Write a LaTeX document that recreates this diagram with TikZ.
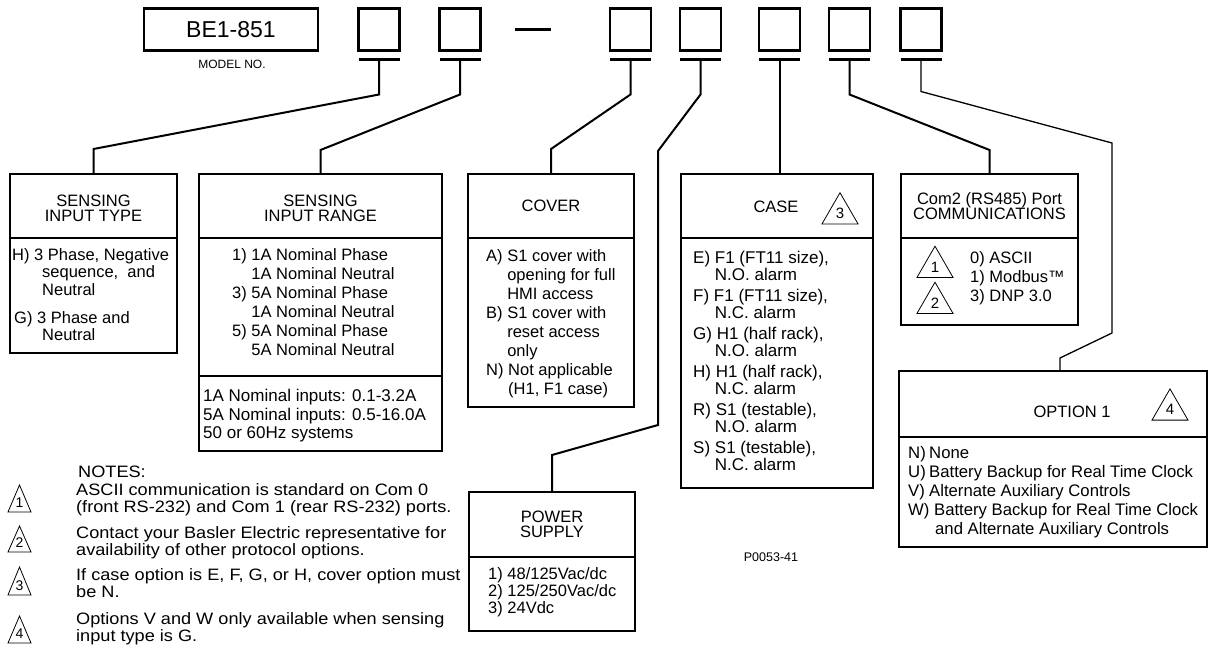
\documentclass[tikz,border=0pt]{standalone}
\usepackage{fontspec}
\setmainfont{Liberation Sans}
\newfontfamily\notefont{Liberation Sans}[FakeStretch=1.1]
\usetikzlibrary{positioning,shapes.geometric}

\tikzset{
  code/.style={draw, line width=2.6pt, minimum width=41pt, minimum height=42pt, inner sep=0pt, outer sep=0pt},
  grp/.style={draw, line width=2.6pt, anchor=north west, inner sep=0pt, outer sep=0pt},
  grpline/.style={line width=2.6pt},
  bar/.style={line width=3pt},
  lead/.style={line width=2pt},
  leadthin/.style={line width=1.3pt},
  head/.style={align=center, anchor=north, inner sep=0pt, font=\fontsize{16.5}{15}\selectfont},
  body/.style={align=left, anchor=north west, inner sep=0pt},
  note/.style={align=left, anchor=north west, inner sep=0pt, font=\notefont\fontsize{16.5}{17}\selectfont},
  tri/.style={draw, line width=0.8pt, regular polygon, regular polygon sides=3, minimum size=41.6pt, inner sep=0pt, font=\fontsize{15}{15}\selectfont},
  triline/.style={line width=0.8pt},
  trinum/.style={inner sep=0pt, font=\fontsize{14}{14}\selectfont},
}

\begin{document}
\begin{tikzpicture}[x=1pt,y=-1pt,font=\fontsize{16.5}{19}\selectfont]
\useasboundingbox (0,0) rectangle (1210,667);

% model number and code boxes
\node[code, minimum width=174pt] (model) at (231,29.5) {\fontsize{23}{23}\selectfont BE1-851};
\node[font=\fontsize{12}{12}\selectfont] (modelno) at (232,64) {MODEL NO.};

\node[code] (c1) at (379,29.5) {};
\node[code] (c2) [right=40pt of c1] {};
\draw[bar] (515,29) -- (551,29);
\node[code] (c3) at (630.5,29.5) {};
\node[code] (c4) [right=29pt of c3] {};
\node[code] (c5) [right=38pt of c4] {};
\node[code] (c6) [right=29pt of c5] {};
\node[code] (c7) [right=30.5pt of c6] {};

\draw[bar] ([yshift=-9pt]c1.south west) -- ([yshift=-9pt]c1.south east);
\draw[bar] ([yshift=-9pt]c2.south west) -- ([yshift=-9pt]c2.south east);
\draw[bar] ([yshift=-9pt]c3.south west) -- ([yshift=-9pt]c3.south east);
\draw[bar] ([yshift=-9pt]c4.south west) -- ([yshift=-9pt]c4.south east);
\draw[bar] ([yshift=-9pt]c5.south west) -- ([yshift=-9pt]c5.south east);
\draw[bar] ([yshift=-9pt]c6.south west) -- ([yshift=-9pt]c6.south east);
\draw[bar] ([yshift=-9pt]c7.south west) -- ([yshift=-9pt]c7.south east);

% option boxes
\node[grp, minimum width=167pt, minimum height=179pt] (stype) at (10,174) {};
\node[grp, minimum width=243pt, minimum height=277pt] (srange) at (199,174) {};
\node[grp, minimum width=166pt, minimum height=233pt] (cover) at (468,174) {};
\node[grp, minimum width=166pt, minimum height=139pt] (power) at (469,492) {};
\node[grp, minimum width=192pt, minimum height=314pt] (case) at (681,174) {};
\node[grp, minimum width=177pt, minimum height=151pt] (com2) at (901,174) {};
\node[grp, minimum width=308pt, minimum height=176pt] (opt) at (899,371) {};

\draw[grpline] ([yshift=-64pt]stype.north west) -- ([yshift=-64pt]stype.north east);
\draw[grpline] ([yshift=-64pt]srange.north west) -- ([yshift=-64pt]srange.north east);
\draw[grpline] ([yshift=-202pt]srange.north west) -- ([yshift=-202pt]srange.north east);
\draw[grpline] ([yshift=-64pt]cover.north west) -- ([yshift=-64pt]cover.north east);
\draw[grpline] ([yshift=-65pt]power.north west) -- ([yshift=-65pt]power.north east);
\draw[grpline] ([yshift=-64pt]case.north west) -- ([yshift=-64pt]case.north east);
\draw[grpline] ([yshift=-64pt]com2.north west) -- ([yshift=-64pt]com2.north east);
\draw[grpline] ([yshift=-66pt]opt.north west) -- ([yshift=-66pt]opt.north east);

% leads
\draw[lead] ([yshift=-9pt]c1.south) -- ++(0,35) -- ([yshift=25pt]stype.north) -- (stype.north);
\draw[lead] ([yshift=-9pt]c2.south) -- ++(0,35) -- ([yshift=24pt]srange.north) -- (srange.north);
\draw[lead] ([yshift=-9pt]c3.south) -- ++(0,35) -- ([yshift=25pt]cover.north) -- (cover.north);
\draw[lead] ([yshift=-9pt]c4.south) -- ++(0,35) -- (658,151) -- (658,425) -- ([yshift=37pt]power.north) -- (power.north);
\draw[lead] ([yshift=-9pt]c5.south) -- (c5.south |- case.north);
\draw[lead] ([yshift=-9pt]c6.south) -- ++(0,35) -- ([yshift=24pt]com2.north) -- (com2.north);
\draw[leadthin] ([yshift=-9pt]c7.south) -- ++(0,32) -- (1112,143) -- (1112,333) -- ([xshift=7pt,yshift=13pt]opt.north) -- ([xshift=7pt]opt.north);

% texts
\node[head] (stypehd) at (93.5,195) {SENSING\\INPUT TYPE};
\node[body, font=\fontsize{16.5}{17.5}\selectfont] (stypebd) at (12,248)
  {H) 3 Phase, Negative\\ \hspace*{30pt}sequence,~ and\\ \hspace*{30pt}Neutral\\[10.5pt]
   \hspace*{2pt}G) 3 Phase and\\ \hspace*{30pt}Neutral};

\node[head] (srangehd) at (320.5,195) {SENSING\\INPUT RANGE};
\node[body] (srangebd) at (232,248)
  {1) 1A Nominal Phase\\ \phantom{1) }1A Nominal Neutral\\
   3) 5A Nominal Phase\\ \phantom{3) }1A Nominal Neutral\\
   5) 5A Nominal Phase\\ \phantom{5) }5A Nominal Neutral};
\node[body, font=\fontsize{17}{18.5}\selectfont] (srangeft) at (203,389)
  {1A Nominal inputs: 0.1-3.2A\\5A Nominal inputs: 0.5-16.0A\\50 or 60Hz systems};

\node[head] (coverhd) at (551,200) {COVER};
\node[body] (coverbd) at (486,249)
  {A) S1 cover with\\ \phantom{A) }opening for full\\ \phantom{A) }HMI access\\
   B) S1 cover with\\ \phantom{B) }reset access\\ \phantom{B) }only\\
   N) Not applicable\\ \phantom{N) }(H1, F1 case)};

\node[head] (powerhd) at (552,511) {POWER\\SUPPLY};
\node[body, font=\fontsize{16.5}{17}\selectfont] (powerbd) at (488,567)
  {1) 48/125Vac/dc\\2) 125/250Vac/dc\\3) 24Vdc};

\node[head] (casehd) at (776,201) {CASE};
\node[tri] (t3) at (840,213.5) {3};
\node[body, font=\fontsize{17}{16.5}\selectfont] (casebd) at (693,251)
  {E) F1 (FT11 size),\\ \phantom{E) }N.O. alarm\\[5pt]
   F) F1 (FT11 size),\\ \phantom{E) }N.C. alarm\\[5pt]
   G) H1 (half rack),\\ \phantom{E) }N.O. alarm\\[5pt]
   H) H1 (half rack),\\ \phantom{E) }N.C. alarm\\[5pt]
   R) S1 (testable),\\ \phantom{E) }N.O. alarm\\[5pt]
   S) S1 (testable),\\ \phantom{E) }N.C. alarm};

\node[head] (com2hd) at (989.5,192) {Com2 (RS485) Port\\COMMUNICATIONS};
\node[tri] (t1) at (935,267) {1};
\node[tri] (t2) at (935,303) {2};
\node[body] (com2bd) at (970,251) {0) ASCII\\1) Modbus™\\3) DNP 3.0};

\node[head] (opthd) at (1072,406) {OPTION 1};
\node[tri] (t4) at (1170,409.7) {4};
\node[body, font=\fontsize{16.7}{19}\selectfont] (optbd) at (908,446)
  {\makebox[21pt][l]{N)}None\\
   \makebox[21pt][l]{U)}Battery Backup for Real Time Clock\\
   \makebox[21pt][l]{V)}Alternate Auxiliary Controls\\
   W) Battery Backup for Real Time Clock\\
   \hspace*{27pt}and Alternate Auxiliary Controls};

\node[font=\fontsize{12.5}{12.5}\selectfont] (drawno) at (771,557) {P0053-41};

% notes
\node[note] (notes) at (78,466) {NOTES:};
\node[note] (note1) at (76,483)
  {ASCII communication is standard on Com 0\\(front RS-232) and Com 1 (rear RS-232) ports.};
\node[note] (note2) at (76,526)
  {Contact your Basler Electric representative for\\availability of other protocol options.};
\node[note] (note3) at (76,568)
  {If case option is E, F, G, or H, cover option must\\be N.};
\node[note] (note4) at (76,612)
  {Options V and W only available when sensing\\input type is G.};

\node[trinum] (n1) at (19.5,503) {1};
\draw[triline] (8,512) -- (19.5,485) -- (31,512) -- cycle;
\node[trinum] (n2) at (19.5,543) {2};
\draw[triline] (8,552) -- (19.5,526) -- (31,552) -- cycle;
\node[trinum] (n3) at (19.5,586) {3};
\draw[triline] (8,595) -- (19.5,567) -- (31,595) -- cycle;
\node[trinum] (n4) at (19.5,634) {4};
\draw[triline] (8,643) -- (19.5,616) -- (31,643) -- cycle;
\end{tikzpicture}
\end{document}
